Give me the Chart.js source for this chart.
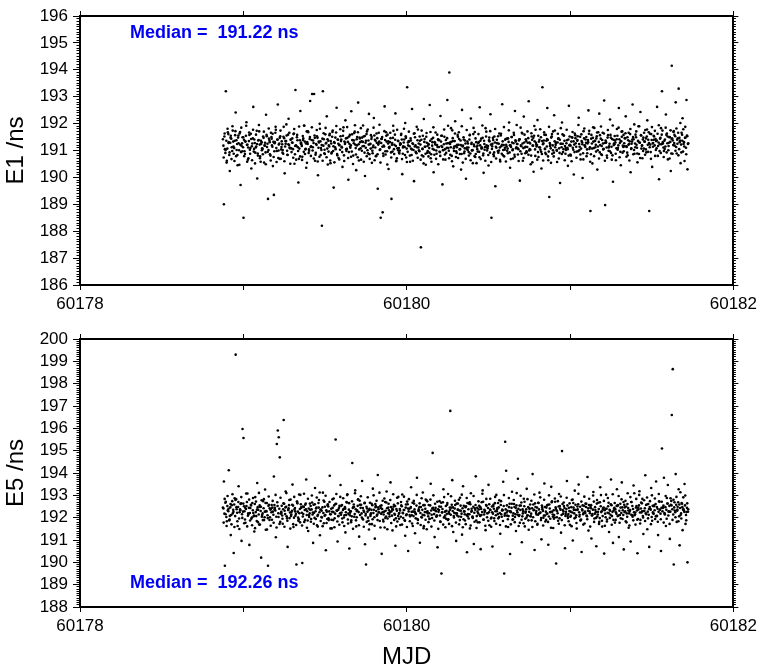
<!DOCTYPE html>
<html>
<head>
<meta charset="utf-8">
<script src="https://cdn.jsdelivr.net/npm/chart.js@4.4.1/dist/chart.umd.min.js"></script>
<style>
  body{margin:0;background:#fff;}
  #wrap{position:relative;width:761px;height:668px;font-family:"Liberation Sans",Arial,sans-serif;}
  canvas{position:absolute;left:0;}
  #c1{top:0}
  #c2{top:320px}
  .median{position:absolute;left:130px;color:#0000f5;font-weight:bold;font-size:18px;line-height:18px;white-space:pre;}
</style>
</head>
<body>
<div id="wrap">
  <canvas id="c1" width="761" height="320"></canvas>
  <canvas id="c2" width="761" height="348"></canvas>
  <div class="median" id="med1" style="top:23px"></div>
  <div class="median" id="med2" style="top:573px"></div>
</div>
<script>
// epochs (MJD), first sample of each slot
const mjd = [
60178.875,60178.881,60178.887,60178.893,60178.899,60178.905,60178.911,60178.917,60178.923,60178.929,
60178.935,60178.941,60178.947,60178.953,60178.959,60178.965,60178.971,60178.977,60178.983,60178.989,
60178.995,60179.001,60179.007,60179.013,60179.019,60179.025,60179.031,60179.037,60179.043,60179.049,
60179.055,60179.061,60179.067,60179.073,60179.079,60179.085,60179.091,60179.097,60179.103,60179.109,
60179.115,60179.121,60179.127,60179.133,60179.139,60179.145,60179.151,60179.157,60179.163,60179.169,
60179.175,60179.181,60179.187,60179.193,60179.199,60179.205,60179.211,60179.217,60179.223,60179.229,
60179.235,60179.241,60179.247,60179.253,60179.259,60179.265,60179.271,60179.277,60179.283,60179.289,
60179.295,60179.301,60179.307,60179.313,60179.319,60179.325,60179.331,60179.337,60179.343,60179.349,
60179.355,60179.361,60179.367,60179.373,60179.379,60179.385,60179.391,60179.397,60179.403,60179.409,
60179.415,60179.421,60179.427,60179.433,60179.439,60179.445,60179.451,60179.457,60179.463,60179.469,
60179.475,60179.481,60179.487,60179.493,60179.499,60179.505,60179.511,60179.517,60179.523,60179.529,
60179.535,60179.541,60179.547,60179.553,60179.559,60179.565,60179.571,60179.577,60179.583,60179.589,
60179.595,60179.601,60179.607,60179.613,60179.619,60179.625,60179.631,60179.637,60179.643,60179.649,
60179.655,60179.661,60179.667,60179.673,60179.679,60179.685,60179.691,60179.697,60179.703,60179.709,
60179.715,60179.721,60179.727,60179.733,60179.739,60179.745,60179.751,60179.757,60179.763,60179.769,
60179.775,60179.781,60179.787,60179.793,60179.799,60179.805,60179.811,60179.817,60179.823,60179.829,
60179.835,60179.841,60179.847,60179.853,60179.859,60179.865,60179.871,60179.877,60179.883,60179.889,
60179.895,60179.901,60179.907,60179.913,60179.919,60179.925,60179.931,60179.937,60179.943,60179.949,
60179.955,60179.961,60179.967,60179.973,60179.979,60179.985,60179.991,60179.997,60180.003,60180.009,
60180.015,60180.021,60180.027,60180.033,60180.039,60180.045,60180.051,60180.057,60180.063,60180.069,
60180.075,60180.081,60180.087,60180.093,60180.099,60180.105,60180.111,60180.117,60180.123,60180.129,
60180.135,60180.141,60180.147,60180.153,60180.159,60180.165,60180.171,60180.177,60180.183,60180.189,
60180.195,60180.201,60180.207,60180.213,60180.219,60180.225,60180.231,60180.237,60180.243,60180.249,
60180.255,60180.261,60180.267,60180.273,60180.279,60180.285,60180.291,60180.297,60180.303,60180.309,
60180.315,60180.321,60180.327,60180.333,60180.339,60180.345,60180.351,60180.357,60180.363,60180.369,
60180.375,60180.381,60180.387,60180.393,60180.399,60180.405,60180.411,60180.417,60180.423,60180.429,
60180.435,60180.441,60180.447,60180.453,60180.459,60180.465,60180.471,60180.477,60180.483,60180.489,
60180.495,60180.501,60180.507,60180.513,60180.519,60180.525,60180.531,60180.537,60180.543,60180.549,
60180.555,60180.561,60180.567,60180.573,60180.579,60180.585,60180.591,60180.597,60180.603,60180.609,
60180.615,60180.621,60180.627,60180.633,60180.639,60180.645,60180.651,60180.657,60180.663,60180.669,
60180.675,60180.681,60180.687,60180.693,60180.699,60180.705,60180.711,60180.717,60180.723,60180.729,
60180.735,60180.741,60180.747,60180.753,60180.759,60180.765,60180.771,60180.777,60180.783,60180.789,
60180.795,60180.801,60180.807,60180.813,60180.819,60180.825,60180.831,60180.837,60180.843,60180.849,
60180.855,60180.861,60180.867,60180.873,60180.879,60180.885,60180.891,60180.897,60180.903,60180.909,
60180.915,60180.921,60180.927,60180.933,60180.939,60180.945,60180.951,60180.957,60180.963,60180.969,
60180.975,60180.981,60180.987,60180.993,60180.999,60181.005,60181.011,60181.017,60181.023,60181.029,
60181.035,60181.041,60181.047,60181.053,60181.059,60181.065,60181.071,60181.077,60181.083,60181.089,
60181.095,60181.101,60181.107,60181.113,60181.119,60181.125,60181.131,60181.137,60181.143,60181.149,
60181.155,60181.161,60181.167,60181.173,60181.179,60181.185,60181.191,60181.197,60181.203,60181.209,
60181.215,60181.221,60181.227,60181.233,60181.239,60181.245,60181.251,60181.257,60181.263,60181.269,
60181.275,60181.281,60181.287,60181.293,60181.299,60181.305,60181.311,60181.317,60181.323,60181.329,
60181.335,60181.341,60181.347,60181.353,60181.359,60181.365,60181.371,60181.377,60181.383,60181.389,
60181.395,60181.401,60181.407,60181.413,60181.419,60181.425,60181.431,60181.437,60181.443,60181.449,
60181.455,60181.461,60181.467,60181.473,60181.479,60181.485,60181.491,60181.497,60181.503,60181.509,
60181.515,60181.521,60181.527,60181.533,60181.539,60181.545,60181.551,60181.557,60181.563,60181.569,
60181.575,60181.581,60181.587,60181.593,60181.599,60181.605,60181.611,60181.617,60181.623,60181.629,
60181.635,60181.641,60181.647,60181.653,60181.659,60181.665,60181.671,60181.677,60181.683,60181.689,
60181.695,60181.701,60181.707,60181.713,60181.719
];

// epochs (MJD), second sample of each slot
const mjdB = [
60178.878,60178.884,60178.890,60178.896,60178.902,60178.908,60178.914,60178.920,60178.926,60178.932,
60178.938,60178.944,60178.950,60178.956,60178.962,60178.968,60178.974,60178.980,60178.986,60178.992,
60178.998,60179.004,60179.010,60179.016,60179.022,60179.028,60179.034,60179.040,60179.046,60179.052,
60179.058,60179.064,60179.070,60179.076,60179.082,60179.088,60179.094,60179.100,60179.106,60179.112,
60179.118,60179.124,60179.130,60179.136,60179.142,60179.148,60179.154,60179.160,60179.166,60179.172,
60179.178,60179.184,60179.190,60179.196,60179.202,60179.208,60179.214,60179.220,60179.226,60179.232,
60179.238,60179.244,60179.250,60179.256,60179.262,60179.268,60179.274,60179.280,60179.286,60179.292,
60179.298,60179.304,60179.310,60179.316,60179.322,60179.328,60179.334,60179.340,60179.346,60179.352,
60179.358,60179.364,60179.370,60179.376,60179.382,60179.388,60179.394,60179.400,60179.406,60179.412,
60179.418,60179.424,60179.430,60179.436,60179.442,60179.448,60179.454,60179.460,60179.466,60179.472,
60179.478,60179.484,60179.490,60179.496,60179.502,60179.508,60179.514,60179.520,60179.526,60179.532,
60179.538,60179.544,60179.550,60179.556,60179.562,60179.568,60179.574,60179.580,60179.586,60179.592,
60179.598,60179.604,60179.610,60179.616,60179.622,60179.628,60179.634,60179.640,60179.646,60179.652,
60179.658,60179.664,60179.670,60179.676,60179.682,60179.688,60179.694,60179.700,60179.706,60179.712,
60179.718,60179.724,60179.730,60179.736,60179.742,60179.748,60179.754,60179.760,60179.766,60179.772,
60179.778,60179.784,60179.790,60179.796,60179.802,60179.808,60179.814,60179.820,60179.826,60179.832,
60179.838,60179.844,60179.850,60179.856,60179.862,60179.868,60179.874,60179.880,60179.886,60179.892,
60179.898,60179.904,60179.910,60179.916,60179.922,60179.928,60179.934,60179.940,60179.946,60179.952,
60179.958,60179.964,60179.970,60179.976,60179.982,60179.988,60179.994,60180.000,60180.006,60180.012,
60180.018,60180.024,60180.030,60180.036,60180.042,60180.048,60180.054,60180.060,60180.066,60180.072,
60180.078,60180.084,60180.090,60180.096,60180.102,60180.108,60180.114,60180.120,60180.126,60180.132,
60180.138,60180.144,60180.150,60180.156,60180.162,60180.168,60180.174,60180.180,60180.186,60180.192,
60180.198,60180.204,60180.210,60180.216,60180.222,60180.228,60180.234,60180.240,60180.246,60180.252,
60180.258,60180.264,60180.270,60180.276,60180.282,60180.288,60180.294,60180.300,60180.306,60180.312,
60180.318,60180.324,60180.330,60180.336,60180.342,60180.348,60180.354,60180.360,60180.366,60180.372,
60180.378,60180.384,60180.390,60180.396,60180.402,60180.408,60180.414,60180.420,60180.426,60180.432,
60180.438,60180.444,60180.450,60180.456,60180.462,60180.468,60180.474,60180.480,60180.486,60180.492,
60180.498,60180.504,60180.510,60180.516,60180.522,60180.528,60180.534,60180.540,60180.546,60180.552,
60180.558,60180.564,60180.570,60180.576,60180.582,60180.588,60180.594,60180.600,60180.606,60180.612,
60180.618,60180.624,60180.630,60180.636,60180.642,60180.648,60180.654,60180.660,60180.666,60180.672,
60180.678,60180.684,60180.690,60180.696,60180.702,60180.708,60180.714,60180.720,60180.726,60180.732,
60180.738,60180.744,60180.750,60180.756,60180.762,60180.768,60180.774,60180.780,60180.786,60180.792,
60180.798,60180.804,60180.810,60180.816,60180.822,60180.828,60180.834,60180.840,60180.846,60180.852,
60180.858,60180.864,60180.870,60180.876,60180.882,60180.888,60180.894,60180.900,60180.906,60180.912,
60180.918,60180.924,60180.930,60180.936,60180.942,60180.948,60180.954,60180.960,60180.966,60180.972,
60180.978,60180.984,60180.990,60180.996,60181.002,60181.008,60181.014,60181.020,60181.026,60181.032,
60181.038,60181.044,60181.050,60181.056,60181.062,60181.068,60181.074,60181.080,60181.086,60181.092,
60181.098,60181.104,60181.110,60181.116,60181.122,60181.128,60181.134,60181.140,60181.146,60181.152,
60181.158,60181.164,60181.170,60181.176,60181.182,60181.188,60181.194,60181.200,60181.206,60181.212,
60181.218,60181.224,60181.230,60181.236,60181.242,60181.248,60181.254,60181.260,60181.266,60181.272,
60181.278,60181.284,60181.290,60181.296,60181.302,60181.308,60181.314,60181.320,60181.326,60181.332,
60181.338,60181.344,60181.350,60181.356,60181.362,60181.368,60181.374,60181.380,60181.386,60181.392,
60181.398,60181.404,60181.410,60181.416,60181.422,60181.428,60181.434,60181.440,60181.446,60181.452,
60181.458,60181.464,60181.470,60181.476,60181.482,60181.488,60181.494,60181.500,60181.506,60181.512,
60181.518,60181.524,60181.530,60181.536,60181.542,60181.548,60181.554,60181.560,60181.566,60181.572,
60181.578,60181.584,60181.590,60181.596,60181.602,60181.608,60181.614,60181.620,60181.626,60181.632,
60181.638,60181.644,60181.650,60181.656,60181.662,60181.668,60181.674,60181.680,60181.686,60181.692,
60181.698,60181.704,60181.710,60181.716,60181.722
];

// epochs (MJD), third sample of each slot
const mjdC = [
60178.8795,60178.8855,60178.8915,60178.8975,60178.9035,60178.9095,60178.9155,60178.9215,60178.9275,60178.9335,
60178.9395,60178.9455,60178.9515,60178.9575,60178.9635,60178.9695,60178.9755,60178.9815,60178.9875,60178.9935,
60178.9995,60179.0055,60179.0115,60179.0175,60179.0235,60179.0295,60179.0355,60179.0415,60179.0475,60179.0535,
60179.0595,60179.0655,60179.0715,60179.0775,60179.0835,60179.0895,60179.0955,60179.1015,60179.1075,60179.1135,
60179.1195,60179.1255,60179.1315,60179.1375,60179.1435,60179.1495,60179.1555,60179.1615,60179.1675,60179.1735,
60179.1795,60179.1855,60179.1915,60179.1975,60179.2035,60179.2095,60179.2155,60179.2215,60179.2275,60179.2335,
60179.2395,60179.2455,60179.2515,60179.2575,60179.2635,60179.2695,60179.2755,60179.2815,60179.2875,60179.2935,
60179.2995,60179.3055,60179.3115,60179.3175,60179.3235,60179.3295,60179.3355,60179.3415,60179.3475,60179.3535,
60179.3595,60179.3655,60179.3715,60179.3775,60179.3835,60179.3895,60179.3955,60179.4015,60179.4075,60179.4135,
60179.4195,60179.4255,60179.4315,60179.4375,60179.4435,60179.4495,60179.4555,60179.4615,60179.4675,60179.4735,
60179.4795,60179.4855,60179.4915,60179.4975,60179.5035,60179.5095,60179.5155,60179.5215,60179.5275,60179.5335,
60179.5395,60179.5455,60179.5515,60179.5575,60179.5635,60179.5695,60179.5755,60179.5815,60179.5875,60179.5935,
60179.5995,60179.6055,60179.6115,60179.6175,60179.6235,60179.6295,60179.6355,60179.6415,60179.6475,60179.6535,
60179.6595,60179.6655,60179.6715,60179.6775,60179.6835,60179.6895,60179.6955,60179.7015,60179.7075,60179.7135,
60179.7195,60179.7255,60179.7315,60179.7375,60179.7435,60179.7495,60179.7555,60179.7615,60179.7675,60179.7735,
60179.7795,60179.7855,60179.7915,60179.7975,60179.8035,60179.8095,60179.8155,60179.8215,60179.8275,60179.8335,
60179.8395,60179.8455,60179.8515,60179.8575,60179.8635,60179.8695,60179.8755,60179.8815,60179.8875,60179.8935,
60179.8995,60179.9055,60179.9115,60179.9175,60179.9235,60179.9295,60179.9355,60179.9415,60179.9475,60179.9535,
60179.9595,60179.9655,60179.9715,60179.9775,60179.9835,60179.9895,60179.9955,60180.0015,60180.0075,60180.0135,
60180.0195,60180.0255,60180.0315,60180.0375,60180.0435,60180.0495,60180.0555,60180.0615,60180.0675,60180.0735,
60180.0795,60180.0855,60180.0915,60180.0975,60180.1035,60180.1095,60180.1155,60180.1215,60180.1275,60180.1335,
60180.1395,60180.1455,60180.1515,60180.1575,60180.1635,60180.1695,60180.1755,60180.1815,60180.1875,60180.1935,
60180.1995,60180.2055,60180.2115,60180.2175,60180.2235,60180.2295,60180.2355,60180.2415,60180.2475,60180.2535,
60180.2595,60180.2655,60180.2715,60180.2775,60180.2835,60180.2895,60180.2955,60180.3015,60180.3075,60180.3135,
60180.3195,60180.3255,60180.3315,60180.3375,60180.3435,60180.3495,60180.3555,60180.3615,60180.3675,60180.3735,
60180.3795,60180.3855,60180.3915,60180.3975,60180.4035,60180.4095,60180.4155,60180.4215,60180.4275,60180.4335,
60180.4395,60180.4455,60180.4515,60180.4575,60180.4635,60180.4695,60180.4755,60180.4815,60180.4875,60180.4935,
60180.4995,60180.5055,60180.5115,60180.5175,60180.5235,60180.5295,60180.5355,60180.5415,60180.5475,60180.5535,
60180.5595,60180.5655,60180.5715,60180.5775,60180.5835,60180.5895,60180.5955,60180.6015,60180.6075,60180.6135,
60180.6195,60180.6255,60180.6315,60180.6375,60180.6435,60180.6495,60180.6555,60180.6615,60180.6675,60180.6735,
60180.6795,60180.6855,60180.6915,60180.6975,60180.7035,60180.7095,60180.7155,60180.7215,60180.7275,60180.7335,
60180.7395,60180.7455,60180.7515,60180.7575,60180.7635,60180.7695,60180.7755,60180.7815,60180.7875,60180.7935,
60180.7995,60180.8055,60180.8115,60180.8175,60180.8235,60180.8295,60180.8355,60180.8415,60180.8475,60180.8535,
60180.8595,60180.8655,60180.8715,60180.8775,60180.8835,60180.8895,60180.8955,60180.9015,60180.9075,60180.9135,
60180.9195,60180.9255,60180.9315,60180.9375,60180.9435,60180.9495,60180.9555,60180.9615,60180.9675,60180.9735,
60180.9795,60180.9855,60180.9915,60180.9975,60181.0035,60181.0095,60181.0155,60181.0215,60181.0275,60181.0335,
60181.0395,60181.0455,60181.0515,60181.0575,60181.0635,60181.0695,60181.0755,60181.0815,60181.0875,60181.0935,
60181.0995,60181.1055,60181.1115,60181.1175,60181.1235,60181.1295,60181.1355,60181.1415,60181.1475,60181.1535,
60181.1595,60181.1655,60181.1715,60181.1775,60181.1835,60181.1895,60181.1955,60181.2015,60181.2075,60181.2135,
60181.2195,60181.2255,60181.2315,60181.2375,60181.2435,60181.2495,60181.2555,60181.2615,60181.2675,60181.2735,
60181.2795,60181.2855,60181.2915,60181.2975,60181.3035,60181.3095,60181.3155,60181.3215,60181.3275,60181.3335,
60181.3395,60181.3455,60181.3515,60181.3575,60181.3635,60181.3695,60181.3755,60181.3815,60181.3875,60181.3935,
60181.3995,60181.4055,60181.4115,60181.4175,60181.4235,60181.4295,60181.4355,60181.4415,60181.4475,60181.4535,
60181.4595,60181.4655,60181.4715,60181.4775,60181.4835,60181.4895,60181.4955,60181.5015,60181.5075,60181.5135,
60181.5195,60181.5255,60181.5315,60181.5375,60181.5435,60181.5495,60181.5555,60181.5615,60181.5675,60181.5735,
60181.5795,60181.5855,60181.5915,60181.5975,60181.6035,60181.6095,60181.6155,60181.6215,60181.6275,60181.6335,
60181.6395,60181.6455,60181.6515,60181.6575,60181.6635,60181.6695,60181.6755,60181.6815,60181.6875,60181.6935,
60181.6995,60181.7055,60181.7115,60181.7175,60181.7235
];

// E1 delay, ns (first samples)
const e1 = [
191.42,189.00,191.05,193.20,190.62,191.68,191.31,190.24,191.55,191.12,
191.74,190.88,191.36,192.41,191.02,190.45,191.27,191.63,189.72,191.18,
191.49,188.50,190.97,191.33,192.05,191.21,190.71,191.58,191.09,190.33,
191.26,192.62,191.41,190.92,191.15,189.96,191.37,191.71,190.78,191.24,
191.08,191.52,190.55,191.29,192.33,191.13,189.20,191.44,190.86,191.66,
191.19,190.42,189.35,191.31,191.77,190.98,192.71,191.22,191.47,190.69,
191.34,191.02,191.88,190.15,191.25,191.56,190.83,192.18,191.11,191.40,
190.94,191.29,191.61,190.51,193.25,191.17,191.38,189.81,191.07,192.47,
191.23,190.77,191.45,191.92,191.04,190.36,191.31,191.68,190.99,192.84,
191.16,193.10,191.37,193.10,190.62,191.24,191.53,190.08,191.30,191.81,
191.09,188.20,193.20,191.42,190.87,191.26,192.27,190.48,191.19,191.62,
191.35,190.93,191.74,189.62,191.28,191.05,192.59,191.41,190.72,191.20,
191.53,191.14,190.39,191.86,191.33,192.12,190.98,191.47,189.91,191.25,
191.10,192.46,191.39,190.81,191.65,191.22,190.27,191.50,192.78,191.04,
191.31,190.66,191.48,191.93,191.17,190.05,191.36,191.71,190.90,192.36,
191.23,191.57,190.54,191.12,192.21,191.40,190.79,191.29,189.58,191.66,
191.02,188.50,191.44,188.70,191.18,192.64,190.85,191.33,191.59,190.31,
191.14,191.46,189.20,190.96,191.73,191.21,192.38,190.63,191.08,191.35,
190.89,191.27,191.62,190.12,191.16,191.41,192.02,190.74,193.35,191.19,
191.33,190.58,191.07,192.54,191.24,189.86,191.49,190.93,191.12,191.78,
191.01,191.36,187.40,190.82,191.55,192.17,191.14,190.47,191.29,190.98,
191.22,192.69,190.71,191.43,191.06,190.19,191.31,191.67,190.88,191.13,
191.38,190.95,192.28,191.17,189.74,191.02,191.51,190.66,191.26,192.88,
191.09,193.90,190.84,191.32,191.75,190.41,191.15,192.09,190.97,191.21,
190.72,191.43,191.05,190.29,192.51,191.18,190.90,191.37,189.95,191.11,
191.26,190.81,191.58,192.19,191.00,190.53,191.22,191.69,190.87,191.14,
190.96,191.31,192.61,190.68,191.12,191.47,190.17,191.03,191.83,191.19,
191.07,190.44,191.34,192.35,188.50,191.25,190.86,191.52,189.67,191.10,
191.28,190.92,191.63,190.59,191.16,192.72,191.02,190.78,191.40,191.21,
190.99,191.45,192.04,190.36,191.13,191.30,190.70,191.58,192.47,191.08,
191.24,190.85,191.37,189.88,191.19,191.66,190.62,192.26,191.11,191.42,
190.93,191.29,192.83,191.05,190.49,191.52,191.18,190.21,191.34,191.77,
191.15,192.13,190.76,191.40,191.03,190.33,193.35,191.27,191.59,190.91,
191.36,192.58,190.64,189.27,191.22,191.48,190.88,191.71,192.31,191.12,
191.30,190.57,191.44,191.08,189.79,191.25,192.04,190.94,191.56,191.17,
191.02,191.38,190.43,192.66,191.21,190.81,191.49,191.10,190.11,191.63,
191.27,190.96,191.53,192.22,191.14,190.67,191.35,189.98,191.72,191.19,
191.41,190.79,191.26,192.49,191.06,188.75,191.58,190.52,191.33,191.84,
191.12,191.45,190.29,191.68,192.37,191.20,190.86,191.39,191.04,192.86,
188.97,191.31,190.73,191.57,191.16,192.15,190.91,191.43,189.84,191.26,
191.37,190.64,191.80,191.09,192.58,191.28,190.45,191.51,191.18,190.97,
191.46,192.27,191.13,190.82,191.66,191.34,190.19,191.25,192.71,191.42,
190.88,191.59,191.21,190.56,191.90,191.30,192.43,191.07,190.71,191.48,
191.33,191.76,190.93,192.12,191.40,188.75,191.22,191.61,190.39,191.28,
191.52,190.80,191.35,192.62,191.17,189.93,191.44,191.83,193.20,191.26,
190.98,191.41,192.34,191.63,190.67,191.29,191.50,190.24,194.15,191.37,
191.72,191.18,192.79,190.89,191.45,193.30,191.31,190.53,191.66,192.20,
191.24,190.61,191.48,192.88,190.30
];

// E1 delay, ns (second samples)
const e1B = [
191.18,191.52,190.91,191.36,191.07,191.61,190.83,191.29,191.44,190.98,
191.33,191.09,191.57,190.79,191.24,191.48,191.01,191.69,190.94,191.27,
191.12,191.40,190.87,191.55,191.21,190.66,191.35,191.03,191.62,191.16,
191.45,190.96,191.28,191.11,191.73,190.89,191.39,191.22,190.58,191.31,
191.06,191.47,191.19,190.93,191.58,191.25,191.02,191.37,190.81,191.50,
191.14,191.32,190.97,191.66,191.09,191.41,190.72,191.26,191.53,191.04,
191.23,190.88,191.46,191.15,191.35,190.99,191.59,191.20,191.08,191.42,
191.30,191.05,191.63,190.86,191.19,191.49,191.12,190.69,191.38,191.27,
191.17,191.54,190.95,191.33,191.06,191.71,191.24,190.91,191.43,191.13,
191.39,191.00,191.28,191.56,190.84,191.21,191.47,191.10,190.77,191.34,
191.02,191.44,191.18,190.90,191.60,191.29,191.07,191.36,191.15,190.63,
191.26,191.51,190.98,191.31,191.12,191.67,190.87,191.40,191.20,191.03,
191.35,191.11,191.55,190.82,191.24,191.45,191.06,191.32,190.94,191.58,
191.19,190.96,191.38,191.27,191.70,191.09,191.42,190.75,191.23,191.48,
191.08,191.34,191.16,191.52,190.92,191.29,191.61,191.01,191.37,190.86,
191.25,191.43,190.99,191.18,191.56,191.11,190.80,191.46,191.22,191.33,
191.04,191.28,191.50,190.89,191.15,191.39,191.68,190.97,191.26,191.12,
191.31,190.93,191.21,191.47,191.05,191.59,191.17,190.71,191.36,191.09,
191.00,191.24,191.41,190.88,191.30,191.13,191.53,191.07,190.95,191.35,
191.16,191.45,190.83,191.27,191.02,191.64,191.19,190.90,191.38,191.11,
190.97,191.22,191.40,191.06,190.78,191.32,191.14,191.51,190.92,191.25,
191.09,191.36,190.86,191.18,191.47,191.03,191.29,190.69,191.20,191.42,
191.13,190.94,191.33,191.55,191.01,191.23,190.85,191.39,191.10,191.27,
190.99,191.30,191.12,190.80,191.46,191.08,191.35,191.17,190.91,191.58,
191.21,191.04,191.37,190.87,191.15,191.49,190.96,191.26,191.07,191.33,
191.11,191.41,190.89,191.24,191.02,191.61,191.16,190.76,191.31,191.05,
191.28,190.95,191.19,191.44,191.09,190.82,191.36,191.13,191.52,191.00,
191.17,191.38,190.92,191.22,191.06,191.47,190.79,191.30,191.14,191.40,
190.98,191.25,191.11,191.56,190.88,191.34,191.20,191.03,191.43,191.15,
191.07,191.32,190.93,191.19,191.50,191.01,191.27,190.84,191.38,191.12,
191.24,191.05,191.42,190.97,191.16,191.63,191.09,191.30,190.90,191.35,
191.13,191.46,191.00,191.26,190.81,191.40,191.18,191.55,191.04,191.29,
191.20,190.94,191.33,191.11,191.49,190.87,191.23,191.37,191.06,191.58,
191.15,191.39,190.96,191.28,191.08,191.52,191.19,190.78,191.34,191.21,
191.02,191.30,191.45,190.91,191.25,191.12,191.60,191.05,191.36,190.88,
191.27,191.10,191.41,191.19,190.85,191.33,191.48,191.03,191.22,191.57,
191.14,191.36,190.97,191.24,191.51,191.07,191.31,190.90,191.45,191.18,
191.29,191.04,191.39,191.62,191.12,190.86,191.26,191.47,191.09,191.35,
191.21,191.53,191.01,191.32,190.93,191.44,191.17,191.66,191.06,191.28,
191.37,191.11,191.48,190.99,191.25,191.58,191.14,190.82,191.40,191.23,
191.30,191.08,191.55,191.19,191.42,190.95,191.34,191.71,191.13,191.27,
191.45,191.16,190.92,191.38,191.24,191.61,191.06,191.33,191.50,191.02,
191.26,191.49,191.10,191.36,190.87,191.29,191.57,191.18,191.41,191.07,
191.33,191.04,191.52,191.21,191.68,191.12,190.94,191.39,191.26,191.55,
191.19,191.43,191.08,191.62,191.30,190.98,191.47,191.23,191.74,191.11,
191.36,191.15,191.58,191.27,191.01,191.49,191.32,190.89,191.44,191.20,
191.28,191.53,191.13,191.40,191.66,191.05,191.37,191.22,191.59,190.96,
191.31,191.47,191.10,191.56,191.24
];

// E1 delay, ns (third samples)
const e1C = [
190.74,191.63,191.02,190.55,191.81,191.28,190.93,191.47,190.68,191.90,
191.15,190.61,191.72,191.38,190.83,191.56,190.47,191.21,191.85,190.97,
191.49,190.79,191.34,191.92,190.58,191.11,191.67,190.88,191.43,190.64,
191.77,191.06,190.52,191.59,191.24,190.81,191.95,190.71,191.36,191.01,
190.86,191.70,191.18,190.49,191.53,190.95,191.82,191.31,190.63,191.44,
191.62,190.76,191.27,191.88,190.57,191.40,191.00,190.69,191.74,191.13,
190.92,191.51,190.60,191.35,191.97,190.84,191.23,191.66,190.51,191.08,
191.45,190.73,191.80,191.17,190.66,191.58,190.98,191.89,190.78,191.30,
190.65,191.39,191.93,190.87,191.26,190.54,191.71,191.04,191.50,190.80,
191.86,191.12,190.70,191.47,190.91,191.76,190.59,191.33,191.99,190.83,
191.20,190.62,191.64,191.03,191.84,190.75,191.42,190.96,191.57,190.53,
190.89,191.69,191.16,190.56,191.48,191.91,190.82,191.25,190.67,191.79,
191.41,190.94,191.73,190.61,191.29,191.05,191.87,190.72,191.52,191.14,
190.77,191.60,190.50,191.37,191.94,190.85,191.19,191.68,190.63,191.45,
191.83,190.99,191.32,190.58,191.54,191.10,190.79,191.78,191.22,190.69,
191.07,191.50,190.90,191.85,190.64,191.36,191.63,190.86,191.27,191.96,
190.55,191.43,191.14,190.80,191.72,190.97,191.55,190.48,191.34,191.09,
191.66,190.74,191.28,191.92,190.87,191.40,190.60,191.77,191.01,190.93,
191.21,191.58,190.68,191.11,191.81,190.83,191.47,190.57,191.30,191.70,
190.81,191.37,191.04,190.62,191.62,191.15,190.95,191.88,190.73,191.26,
191.52,190.66,191.74,191.06,190.52,191.43,190.88,191.65,191.17,190.78,
190.92,191.69,190.58,191.31,191.86,190.84,191.22,191.00,191.59,190.49,
191.39,190.80,191.55,191.13,190.67,191.78,191.05,190.91,191.46,191.92,
190.71,191.24,191.83,190.60,191.35,190.98,191.63,190.76,191.12,191.51,
191.68,190.87,191.20,191.90,190.55,191.41,191.08,190.69,191.76,191.02,
190.94,191.57,190.64,191.29,191.01,191.84,190.79,191.45,190.53,191.18,
191.61,190.75,191.36,191.07,191.93,190.89,191.24,190.62,191.70,191.11,
190.83,191.48,191.72,190.57,191.16,191.39,190.93,191.80,190.70,191.27,
191.53,191.00,190.65,191.62,191.21,190.82,191.87,191.10,190.59,191.44,
190.90,191.75,191.19,190.68,191.50,191.04,191.66,190.77,191.33,191.95,
191.08,190.61,191.42,191.85,190.88,191.26,190.72,191.59,191.14,190.97,
191.71,190.84,191.30,191.03,191.64,190.56,191.47,191.91,190.80,191.22,
190.66,191.55,191.12,191.79,190.95,191.35,190.63,191.68,191.06,190.86,
191.43,190.78,191.88,191.17,190.54,191.61,191.01,190.92,191.74,191.28,
190.99,191.62,190.70,191.40,191.83,190.87,191.25,191.56,190.64,191.09,
191.77,191.05,190.81,191.52,191.18,190.60,191.69,191.34,190.94,191.46,
190.73,191.39,191.95,191.02,190.85,191.60,191.23,190.67,191.82,191.13,
191.50,190.90,191.31,191.73,190.58,191.44,191.07,191.86,190.79,191.36,
190.96,191.67,191.15,190.70,191.57,191.89,190.83,191.26,191.63,190.62,
191.29,190.81,191.76,191.11,190.97,191.48,190.66,191.93,191.20,191.54,
190.88,191.42,191.03,191.85,190.75,191.35,191.70,190.92,191.58,191.16,
191.64,190.77,191.49,191.21,190.63,191.80,191.08,191.41,190.86,191.97,
191.12,191.71,190.89,191.34,191.90,190.72,191.56,191.19,190.98,191.66,
190.84,191.45,191.78,190.95,191.28,191.62,190.69,191.87,191.14,191.40,
191.73,191.02,191.37,190.80,191.94,191.23,190.91,191.59,191.31,190.76,
191.06,191.85,190.93,191.52,191.17,190.70,191.75,191.44,190.88,191.69,
191.58,190.99,191.82,191.25,190.82,191.47,192.02,190.93,191.36,191.79,
191.15,191.88,190.86,191.53,191.27
];

// E5 delay, ns (first samples)
const e5 = [
192.45,193.62,189.85,192.71,191.84,192.33,194.12,192.08,191.22,192.56,
192.19,190.42,192.87,199.30,192.38,191.63,193.41,192.24,192.61,190.96,
195.97,195.57,192.29,191.77,192.52,193.08,192.14,190.78,192.43,191.95,
192.66,192.21,191.38,192.92,192.07,193.55,192.35,191.69,192.48,190.21,
192.12,192.74,191.89,193.26,192.30,191.47,189.85,192.58,192.02,192.39,
191.91,192.27,193.84,192.44,191.12,195.30,195.90,195.60,194.70,192.18,
192.53,191.73,196.37,192.31,193.17,192.06,190.69,192.42,191.98,192.81,
192.25,193.48,191.58,192.37,192.09,189.90,192.64,191.86,192.20,193.02,
192.47,189.97,192.16,191.81,192.58,193.71,192.29,191.40,192.03,192.35,
191.94,192.68,190.87,192.22,193.33,192.41,191.66,192.13,192.79,191.21,
192.36,192.01,193.12,191.75,192.49,190.54,192.27,192.60,191.89,193.88,
192.15,191.52,192.44,192.86,191.97,195.50,192.32,190.93,192.07,192.53,
193.46,192.23,191.79,192.39,192.11,191.34,192.70,193.05,192.18,190.62,
192.29,191.88,194.45,192.47,192.04,193.22,191.61,192.33,192.82,191.15,
192.12,192.58,193.64,191.92,192.26,190.81,189.90,192.41,192.00,191.47,
192.67,192.19,191.71,193.30,192.35,191.06,192.52,192.09,193.91,192.24,
191.85,192.43,190.38,192.76,192.14,191.56,192.31,193.17,191.96,192.62,
192.05,193.58,192.28,191.43,192.49,192.17,190.74,192.39,191.83,192.93,
192.21,191.67,192.55,193.04,191.98,192.34,191.19,192.11,192.72,190.51,
192.40,192.06,193.36,191.74,192.27,192.63,191.30,192.16,193.79,191.90,
192.32,190.88,192.48,192.01,193.13,191.62,192.25,192.81,191.48,192.19,
192.57,191.95,193.52,192.13,194.90,192.36,191.13,192.44,192.08,190.67,
192.26,192.74,191.81,189.50,192.39,193.27,192.02,191.57,192.31,192.66,
191.93,192.18,196.78,192.45,193.68,191.36,192.22,192.57,190.96,192.10,
192.35,191.70,192.89,192.04,191.24,193.41,192.28,191.87,192.51,190.45,
192.16,192.63,191.52,193.09,192.30,191.99,190.82,192.42,193.85,192.07,
191.79,192.37,192.12,190.59,192.69,193.22,191.91,192.25,191.44,192.53,
192.20,193.47,191.66,192.34,192.01,190.71,192.58,191.85,192.29,193.02,
192.43,191.97,192.78,191.28,192.15,192.36,193.61,189.50,195.40,194.10,
192.09,191.58,192.47,190.37,192.24,193.16,191.93,192.61,192.03,191.40,
192.32,193.74,192.08,191.77,192.54,190.90,192.19,192.85,191.61,192.27,
193.29,192.11,191.46,192.40,192.06,191.88,193.95,192.33,190.55,192.48,
192.14,191.72,192.66,193.12,192.23,191.03,192.38,192.00,193.53,191.83,
192.45,192.18,190.79,192.59,191.95,193.38,192.27,191.54,192.12,192.71,
189.95,192.30,191.86,193.06,192.41,191.33,194.98,192.17,192.52,190.63,
192.26,193.64,191.99,192.44,191.68,192.08,192.79,190.98,192.35,193.21,
192.02,191.51,192.37,193.48,192.13,191.89,190.46,192.55,192.21,191.74,
192.63,192.10,193.82,191.42,192.29,192.48,191.07,192.16,193.15,191.96,
192.34,190.72,192.05,192.67,191.81,193.36,192.25,191.60,192.42,190.39,
192.18,193.03,191.92,192.51,191.36,192.31,193.71,192.07,190.87,192.40,
191.78,192.24,193.27,192.56,191.13,192.12,191.97,193.58,192.33,190.58,
192.46,191.84,192.19,193.09,191.55,192.28,190.93,192.70,192.04,193.44,
192.11,191.69,192.52,190.41,192.37,193.18,191.90,192.23,192.84,191.27,
192.30,193.90,192.15,191.48,192.61,190.69,192.40,193.33,191.86,192.20,
192.55,191.94,193.62,192.07,191.22,192.73,192.36,190.51,195.10,192.46,
193.79,192.14,191.63,192.88,193.46,192.27,191.05,192.58,196.60,198.65,
189.90,192.32,193.95,191.81,192.49,193.27,190.76,192.12,192.66,191.44,
192.38,193.51,191.72,192.25,190.00
];

// E5 delay, ns (second samples)
const e5B = [
192.41,192.18,192.67,192.03,192.52,192.29,191.88,192.46,192.12,192.74,
192.35,192.59,192.07,192.83,192.22,192.48,191.96,192.37,192.64,192.15,
192.27,192.51,191.92,192.39,192.70,192.09,192.44,192.21,192.58,192.01,
192.33,192.06,192.61,192.25,191.85,192.47,192.14,192.55,192.30,192.78,
192.19,192.42,192.02,192.66,192.28,192.11,192.53,191.90,192.36,192.24,
192.45,192.13,192.57,192.32,192.04,192.69,192.20,192.40,191.81,192.26,
192.10,192.38,192.62,192.16,192.49,191.97,192.34,192.56,192.23,192.08,
192.31,192.54,192.00,192.43,192.17,192.72,192.27,191.93,192.39,192.60,
192.22,192.05,192.48,192.34,192.63,192.12,191.87,192.41,192.19,192.52,
192.37,192.14,192.58,191.99,192.29,192.45,192.08,192.66,192.24,192.35,
192.03,192.46,192.21,192.71,192.12,192.33,191.94,192.50,192.28,192.15,
192.40,192.26,191.89,192.55,192.18,192.62,192.31,192.07,192.44,192.20,
192.13,192.57,192.34,192.01,192.47,192.24,192.68,191.92,192.36,192.11,
192.29,192.06,192.43,192.59,192.16,192.38,192.02,192.53,192.25,192.76,
192.44,192.19,191.95,192.32,192.65,192.10,192.49,192.27,191.86,192.40,
192.08,192.35,192.56,192.21,192.02,192.61,192.30,192.14,192.46,192.23,
192.52,192.17,192.39,191.91,192.27,192.70,192.05,192.42,192.20,192.33,
192.25,192.48,192.09,192.36,192.58,192.13,191.97,192.31,192.64,192.18,
192.39,192.04,192.51,192.22,192.34,191.88,192.45,192.15,192.60,192.28,
192.12,192.43,192.26,192.67,192.07,192.37,192.19,192.54,191.94,192.30,
192.47,192.21,192.03,192.35,192.56,192.11,192.40,192.25,192.73,192.06,
192.20,192.55,192.32,191.98,192.44,192.16,192.62,192.29,192.09,192.38,
192.34,192.10,192.49,192.24,192.69,192.01,192.27,192.52,192.17,191.90,
192.26,192.45,192.13,192.58,192.30,192.07,192.41,192.19,192.63,192.36,
192.05,192.32,192.54,192.18,192.42,191.93,192.28,192.47,192.12,192.66,
192.38,192.15,192.60,192.27,192.03,192.49,192.22,192.35,191.87,192.44,
192.19,192.53,192.08,192.39,192.25,192.71,192.14,192.31,192.57,192.02,
192.43,192.24,192.36,191.96,192.50,192.18,192.40,192.65,192.11,192.29,
192.16,192.46,192.21,192.57,192.04,192.33,192.52,192.09,192.37,192.23,
192.31,192.07,192.62,192.28,192.44,191.91,192.20,192.48,192.15,192.55,
192.24,192.40,192.12,192.34,192.68,192.06,192.29,192.51,191.95,192.38,
192.09,192.47,192.26,192.59,192.18,192.42,192.02,192.35,192.64,192.21,
192.45,192.13,192.37,192.22,191.89,192.54,192.30,192.10,192.48,192.27,
192.17,192.58,192.05,192.41,192.25,192.69,192.14,192.33,192.01,192.46,
192.32,192.20,192.50,191.97,192.36,192.12,192.61,192.28,192.43,192.08,
192.39,192.55,192.16,192.30,192.04,192.47,192.23,192.66,192.19,192.35,
192.11,192.34,192.60,192.24,192.49,191.92,192.38,192.15,192.53,192.27,
192.48,192.06,192.31,192.57,192.20,192.42,192.10,192.36,192.72,192.18,
192.25,192.63,192.14,192.39,191.98,192.51,192.29,192.07,192.45,192.33,
192.02,192.40,192.22,192.67,192.35,192.13,192.56,192.26,191.90,192.44,
192.37,192.17,192.52,192.09,192.31,192.62,192.21,192.46,192.12,192.58,
192.28,192.50,192.04,192.43,192.19,192.34,192.70,192.11,192.39,192.24,
192.15,192.45,192.32,191.94,192.55,192.23,192.41,192.64,192.07,192.30,
192.42,192.20,192.59,192.27,192.13,192.48,192.36,192.03,192.53,192.17,
192.33,192.61,192.08,192.40,192.26,192.71,192.18,192.44,192.29,192.54,
192.21,192.47,192.35,192.63,192.10,192.52,192.27,192.75,192.38,192.14,
192.46,192.24,192.58,192.31,192.69,192.06,192.43,192.19,192.62,192.36,
192.30,192.55,192.12,192.44,192.27
];

// E5 delay, ns (third samples)
const e5C = [
191.78,192.84,192.15,191.63,192.97,192.40,191.92,192.61,191.70,193.05,
192.26,191.58,192.79,192.47,191.84,192.70,191.49,192.33,192.92,191.99,
192.63,191.75,192.44,193.08,191.61,192.19,192.81,191.87,192.55,191.66,
192.88,192.10,191.53,192.72,192.36,191.80,193.11,191.69,192.49,192.04,
191.89,192.83,192.27,191.46,192.66,191.98,192.95,192.42,191.64,192.57,
192.75,191.77,192.38,193.02,191.56,192.52,192.03,191.72,192.89,192.21,
191.95,192.64,191.59,192.46,193.10,191.86,192.34,192.79,191.51,192.14,
192.58,191.71,192.93,192.28,191.67,192.71,192.00,193.04,191.79,192.43,
191.65,192.50,193.07,191.90,192.37,191.55,192.85,192.11,192.63,191.82,
192.99,192.23,191.73,192.60,191.94,192.90,191.60,192.45,193.13,191.85,
192.31,191.62,192.77,192.09,192.98,191.76,192.54,191.97,192.70,191.52,
191.91,192.82,192.25,191.57,192.61,193.06,191.83,192.36,191.68,192.93,
192.53,191.96,192.87,191.63,192.40,192.12,193.01,191.74,192.65,192.22,
191.80,192.73,191.50,192.48,193.09,191.88,192.29,192.80,191.66,192.58,
192.96,192.01,192.43,191.59,192.67,192.17,191.81,192.91,192.33,191.71,
192.14,192.62,191.93,193.00,191.64,192.47,192.76,191.89,192.38,193.12,
191.56,192.55,192.24,191.83,192.86,191.99,192.68,191.48,192.45,192.16,
192.79,191.76,192.39,193.05,191.90,192.52,191.61,192.89,192.07,191.95,
192.32,192.70,191.69,192.20,192.94,191.86,192.59,191.58,192.41,192.83,
191.84,192.48,192.11,191.63,192.75,192.26,191.97,193.02,191.75,192.37,
192.64,191.67,192.87,192.13,191.53,192.56,191.91,192.78,192.28,191.80,
191.94,192.81,191.60,192.42,193.00,191.87,192.33,192.04,192.71,191.50,
192.50,191.83,192.67,192.23,191.69,192.92,192.10,191.95,192.58,193.06,
191.72,192.35,192.96,191.62,192.46,192.01,192.76,191.78,192.19,192.63,
192.80,191.89,192.31,193.03,191.57,192.53,192.15,191.71,192.88,192.06,
191.96,192.69,191.65,192.40,192.05,192.97,191.82,192.57,191.54,192.27,
192.73,191.79,192.47,192.12,193.07,191.92,192.35,191.64,192.84,192.20,
191.86,192.60,192.85,191.59,192.24,192.51,191.97,192.93,191.73,192.38,
192.66,192.03,191.67,192.74,192.32,191.85,193.01,192.18,191.61,192.55,
191.93,192.88,192.28,191.70,192.62,192.09,192.79,191.80,192.44,193.10,
192.13,191.63,192.54,192.98,191.91,192.37,191.75,192.71,192.22,192.00,
192.83,191.88,192.41,192.07,192.76,191.58,192.59,193.04,191.84,192.30,
191.68,192.67,192.19,192.91,191.98,192.46,191.65,192.80,192.10,191.90,
192.55,191.81,193.00,192.25,191.55,192.73,192.04,191.95,192.86,192.39,
192.02,192.74,191.73,192.52,192.95,191.89,192.34,192.68,191.66,192.16,
192.89,192.08,191.84,192.64,192.27,191.62,192.81,192.45,191.97,192.58,
191.76,192.50,193.07,192.05,191.87,192.72,192.32,191.69,192.94,192.21,
192.62,191.93,192.42,192.85,191.60,192.56,192.11,192.99,191.81,192.47,
191.99,192.79,192.26,191.72,192.69,193.01,191.86,192.37,192.75,191.64,
192.40,191.83,192.88,192.20,191.99,192.60,191.68,193.05,192.31,192.66,
191.90,192.53,192.07,192.97,191.77,192.45,192.82,191.94,192.70,192.25,
192.76,191.79,192.61,192.32,191.65,192.92,192.13,192.52,191.88,193.09,
192.23,192.84,191.91,192.44,193.02,191.74,192.68,192.29,192.01,192.78,
191.85,192.57,192.90,191.97,192.39,192.74,191.71,193.00,192.24,192.51,
192.86,192.06,192.48,191.82,193.06,192.35,191.93,192.71,192.43,191.78,
192.17,192.97,191.95,192.63,192.28,191.72,192.87,192.55,191.90,192.80,
192.69,192.02,192.93,192.36,191.84,192.59,193.14,191.96,192.47,192.91,
192.26,192.99,191.88,192.64,192.38
];

const xRange = [60178, 60182];
const xLabelled = [60178, 60180, 60182];
const e1Range = [186, 196];
const e5Range = [188, 200];
const medianText = ['Median =  191.22 ns', 'Median =  192.26 ns'];

const FONT = '"Liberation Sans", Arial, sans-serif';
Chart.defaults.font.family = FONT;
Chart.defaults.color = '#000';

function q(id){ return document.getElementById(id); }

function panel(id, series, yr, yTitle, topH, bottomH, xTitle){
  const dot = {backgroundColor:'#000', borderWidth:0, pointRadius:1.3, pointHoverRadius:1.3};
  const datasets = series.map(([t, v]) => ({data: t.map((x, i) => ({x, y: v[i]})), ...dot}));
  const grid = (len) => ({drawOnChartArea:false, color:'#000', tickLength:len, tickWidth:1});
  const frame = {display:true, color:'#000', width:2};
  const xBase = {type:'linear', min:xRange[0], max:xRange[1]};
  const yBase = {type:'linear', min:yr[0], max:yr[1]};
  new Chart(q(id), {
    type:'scatter',
    data:{datasets},
    options:{
      responsive:false, animation:false, events:[],
      layout:{padding:0},
      plugins:{legend:{display:false}, tooltip:{enabled:false}},
      scales:{
        x:{...xBase, position:'bottom', afterFit:s=>{ s.height = bottomH; },
          ticks:{stepSize:1, autoSkip:false, maxRotation:0, padding:4, color:'#000', font:{size:17},
            callback:v => xLabelled.includes(v) ? String(v) : ''},
          grid:grid(5), border:frame,
          title:{display:!!xTitle, text:xTitle || '', color:'#000', font:{size:24}, padding:{top:0, bottom:-4}}},
        xTop:{...xBase, position:'top', afterFit:s=>{ s.height = topH; },
          ticks:{display:false, stepSize:1}, grid:grid(5), border:frame},
        y:{...yBase, position:'left', weight:1, afterFit:s=>{ s.width = 80; },
          ticks:{stepSize:1, autoSkip:false, padding:5, color:'#000', font:{size:17}},
          grid:grid(7), border:frame,
          title:{display:true, text:yTitle, color:'#000', font:{size:24}, padding:{top:2, bottom:0}}},
        yMinor:{...yBase, position:'left', weight:0, afterFit:s=>{ s.width = 0; },
          ticks:{display:false, stepSize:0.1}, grid:grid(3.5), border:{display:false}},
        yRight:{...yBase, position:'right', weight:1, afterFit:s=>{ s.width = 27; },
          ticks:{display:false, stepSize:1}, grid:grid(5), border:frame},
        yRightMinor:{...yBase, position:'right', weight:0, afterFit:s=>{ s.width = 0; },
          ticks:{display:false, stepSize:0.1}, grid:grid(2.5), border:{display:false}}
      }
    }
  });
}

panel('c1', [[mjd, e1], [mjdB, e1B], [mjdC, e1C]], e1Range, 'E1 /ns', 16, 35, null);
panel('c2', [[mjd, e5], [mjdB, e5B], [mjdC, e5C]], e5Range, 'E5 /ns', 19, 61, 'MJD');
q('med1').textContent = medianText[0];
q('med2').textContent = medianText[1];
</script>
</body>
</html>
